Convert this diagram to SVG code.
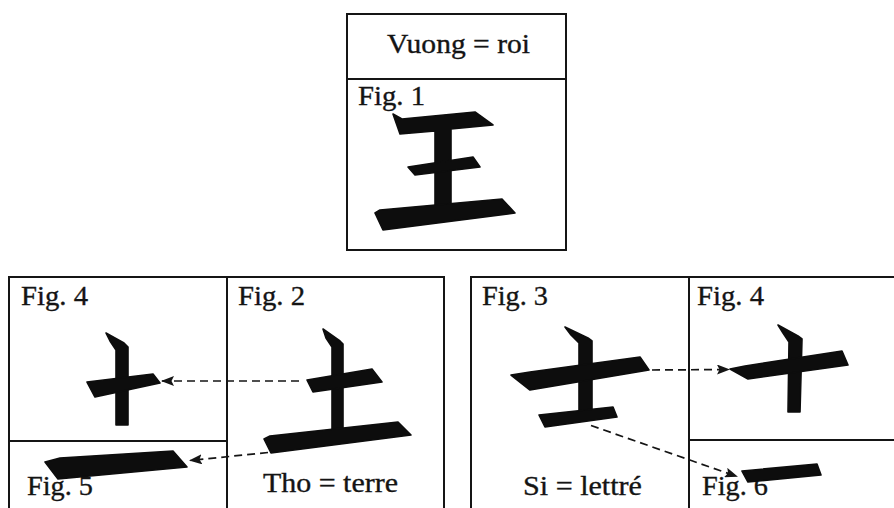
<svg xmlns="http://www.w3.org/2000/svg" width="894" height="508" viewBox="0 0 894 508">
  <style>
    .frame { fill: none; stroke: #151515; stroke-width: 2; }
    .ink { fill: #0d0d0d; stroke: #0d0d0d; stroke-width: 1.6; stroke-linejoin: round; }
    .lbl { font-family: "Liberation Serif", "Times New Roman", serif; font-size: 28px; fill: #141414; stroke: #141414; stroke-width: 0.35; }
    .dash { fill: none; stroke: #151515; stroke-width: 1.7; stroke-dasharray: 8 5; }
  </style>
  <defs>
    <marker id="arrow" viewBox="0 0 13 10" refX="12" refY="5" markerWidth="13" markerHeight="10" markerUnits="userSpaceOnUse" orient="auto">
      <path d="M0,0 L13,5 L0,10 L2.5,5 Z" fill="#151515"/>
    </marker>
  </defs>
  <rect width="894" height="508" fill="#ffffff"/>

  <!-- Top panel: Vuong = roi -->
  <g id="fig1">
    <rect class="frame" x="347" y="14" width="219" height="236"/>
    <line class="frame" x1="347" y1="79" x2="566" y2="79"/>
    <text class="lbl" x="458.5" y="53" text-anchor="middle" textLength="143" lengthAdjust="spacingAndGlyphs">Vuong = roi</text>
    <text class="lbl" x="358" y="105" textLength="67" lengthAdjust="spacingAndGlyphs">Fig. 1</text>
    <polygon class="ink" points="393,114 402,119 475,112 493,125 451,129 451,206 435,206 435,131 400,134"/>
    <polygon class="ink" points="408,167 473,157 480,167 415,175"/>
    <polygon class="ink" points="375,213 380,210 502,199 515,213 383,230"/>
  </g>

  <!-- Bottom left panel -->
  <g id="panel-left">
    <polyline class="frame" points="9,508 9,277 444,277 444,508"/>
    <line class="frame" x1="227" y1="277" x2="227" y2="508"/>
    <line class="frame" x1="9" y1="441" x2="227" y2="441"/>
  </g>

  <g id="fig4-left">
    <text class="lbl" x="21" y="305" textLength="67" lengthAdjust="spacingAndGlyphs">Fig. 4</text>
    <polygon class="ink" points="106,333 124,343 128,347 128,425 116,425 116,350 110,341"/>
    <polygon class="ink" points="87,382 153,374 160,383 95,397"/>
  </g>

  <g id="fig5">
    <text class="lbl" x="27" y="495" textLength="66" lengthAdjust="spacingAndGlyphs">Fig. 5</text>
    <polygon class="ink" points="45,462 60,458 173,451 187,467 58,479"/>
  </g>

  <g id="fig2">
    <text class="lbl" x="238" y="305" textLength="67" lengthAdjust="spacingAndGlyphs">Fig. 2</text>
    <polygon class="ink" points="323,329 340,341 343,344 343,430 332,430 332,347 326,338"/>
    <polygon class="ink" points="307,380 372,369 382,382 313,392"/>
    <polygon class="ink" points="264,439 270,436 398,422 411,435 271,453"/>
    <text class="lbl" x="330.5" y="492" text-anchor="middle" textLength="135" lengthAdjust="spacingAndGlyphs">Tho = terre</text>
  </g>

  <!-- Bottom right panel -->
  <g id="panel-right">
    <polyline class="frame" points="471,508 471,277 894,277"/>
    <line class="frame" x1="689" y1="277" x2="689" y2="508"/>
    <line class="frame" x1="689" y1="440" x2="894" y2="440"/>
  </g>

  <g id="fig3">
    <text class="lbl" x="482" y="305" textLength="66" lengthAdjust="spacingAndGlyphs">Fig. 3</text>
    <polygon class="ink" points="565,327 588,338 592,341 592,413 579,413 579,343 571,335"/>
    <polygon class="ink" points="511,375 530,372 640,357 649,370 530,390"/>
    <polygon class="ink" points="539,415 613,407 617,417 545,427"/>
    <text class="lbl" x="582.5" y="495" text-anchor="middle" textLength="119" lengthAdjust="spacingAndGlyphs">Si = lettré</text>
  </g>

  <g id="fig4-right">
    <text class="lbl" x="697" y="305" textLength="67" lengthAdjust="spacingAndGlyphs">Fig. 4</text>
    <polygon class="ink" points="778,325 798,336 802,339 800,412 788,412 789,342 783,333"/>
    <polygon class="ink" points="730,369 745,366 842,351 848,365 748,379"/>
  </g>

  <g id="fig6">
    <text class="lbl" x="702" y="495" textLength="66" lengthAdjust="spacingAndGlyphs">Fig. 6</text>
    <polygon class="ink" points="742,471 817,464 821,475 748,482"/>
  </g>

  <!-- Connectors -->
  <g id="connectors">
    <line class="dash" x1="299" y1="381" x2="162" y2="381" marker-end="url(#arrow)"/>
    <line class="dash" x1="268" y1="452.5" x2="190" y2="460.5" marker-end="url(#arrow)"/>
    <line class="dash" x1="652" y1="370" x2="729" y2="369.5" marker-end="url(#arrow)"/>
    <line class="dash" x1="591" y1="425.5" x2="737" y2="476.5" marker-end="url(#arrow)"/>
  </g>
</svg>
